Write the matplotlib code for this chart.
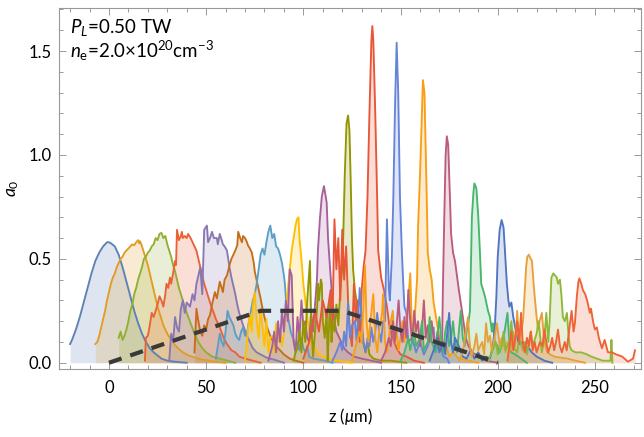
import matplotlib
matplotlib.use("Agg")
import matplotlib.pyplot as plt
from matplotlib.ticker import MultipleLocator

plt.rcParams['font.family'] = ['Lato', 'DejaVu Sans']
plt.rcParams['mathtext.fontset'] = 'custom'
plt.rcParams['mathtext.rm'] = 'Lato'
plt.rcParams['mathtext.it'] = 'Lato:italic'

# snapshots of a0 along z, (z in um, a0)
p01 = [(-20, .09), (-19, .11), (-17, .16), (-15, .22), (-13, .29), (-11, .36), (-9, .43), (-7, .49),
       (-5, .53), (-3, .56), (-1, .58), (0, .58), (1, .575), (3, .56), (5, .52), (7, .46), (9, .39),
       (11, .32), (13, .25), (15, .19), (17, .14), (19, .10), (21, .07), (23, .05), (25, .035),
       (27, .02), (30, .01), (34, .005), (40, 0)]
p02 = [(-7, .09), (-6, .1), (-5, .13), (-4, .17), (-3, .21), (-2, .25), (-1, .3), (0, .34), (1, .38),
       (2, .41), (3, .43), (4, .46), (5, .48), (6, .5), (7, .51), (8, .53), (9, .54), (10, .55),
       (11, .56), (12, .57), (13, .565), (14, .58), (15, .59), (15.5, .575), (16, .585), (17, .56),
       (18, .53), (19, .5), (20, .47), (21, .43), (22, .39), (23, .35), (24, .31), (25, .27), (26, .24),
       (27, .21), (28, .18), (30, .14), (32, .11), (34, .085), (36, .065), (38, .05), (41, .035),
       (44, .025), (48, .015), (53, .008), (60, 0)]
p03 = [(5, .12), (6, .15), (7, .11), (8, .13), (9, .16), (10, .2), (11, .25), (12, .28), (13, .33),
       (14, .36), (15, .4), (16, .43), (17, .46), (18, .5), (19, .51), (20, .53), (21, .54), (22, .56),
       (23, .57), (24, .6), (25, .59), (26, .62), (27, .625), (28, .6), (29, .61), (30, .57), (31, .54),
       (32, .51), (33, .47), (34, .44), (35, .4), (36, .36), (37, .33), (38, .3), (40, .24), (42, .19),
       (44, .14), (46, .1), (48, .07), (50, .05), (53, .03), (57, .02), (61, .01), (65, 0)]
p04 = [(18.5, .01), (19, .12), (20, .13), (21, .18), (22, .24), (23, .22), (24, .25), (25, .28),
       (26, .32), (27, .3), (28, .27), (29, .33), (29.6, .38), (30.5, .36), (31.4, .41), (32, .38),
       (33, .43), (34, .49), (34.5, .47), (35, .64), (36, .59), (37, .61), (37.5, .63), (38, .6),
       (39, .61), (40, .6), (40.7, .62), (42, .6), (43, .58), (44, .56), (45, .54), (46, .5), (47, .46),
       (48, .42), (49, .38), (50, .35), (51, .32), (52, .29), (53.5, .25), (55, .21), (57, .17),
       (59, .12), (60.7, .09), (63, .06), (65, .05), (67, .03), (70, .02), (74, .01), (78, 0)]
p05 = [(31, .01), (32, .14), (33, .1), (34, .22), (35, .17), (36, .15), (37, .26), (38, .3), (39, .24),
       (40, .29), (41.7, .27), (43, .33), (44, .3), (45, .38), (46, .42), (47, .46), (48, .33),
       (49, .64), (50.4, .66), (51, .58), (52, .6), (53, .63), (54, .6), (55.5, .6), (56, .57),
       (57, .62), (58, .59), (58.6, .57), (59.5, .56), (60.7, .54), (62, .46), (63, .41), (64, .37),
       (65, .33), (66, .28), (67, .24), (69, .18), (71, .13), (72.5, .1), (74, .07), (76, .05),
       (78, .04), (81, .025), (85, .015), (90, 0)]
p06 = [(44, .05), (45, .26), (46, .2), (47, .15), (48, .13), (49, .18), (50, .16), (51, .21), (52, .23),
       (53, .28), (54.5, .34), (55.5, .31), (57, .39), (58, .36), (58.6, .34), (59.5, .4), (60.7, .42),
       (61.5, .45), (62, .47), (63, .5), (64, .52), (65, .54), (66, .565), (66.5, .63), (67.5, .6),
       (68.4, .58), (69, .61), (70, .6), (71, .58), (71.5, .565), (72.5, .55), (73.5, .53),
       (74.5, .48), (75, .44), (76.6, .37), (78, .31), (79, .26), (80, .22), (81, .18), (83, .13),
       (85, .09), (88, .06), (90, .04), (93, .02), (96, .01), (100, 0)]
p07 = [(55, .02), (56, .08), (57, .14), (58, .1), (59, .08), (60, .15), (61, .25), (62, .22), (63, .2),
       (64, .18), (65, .14), (66, .12), (67, .11), (68, .15), (69, .17), (70, .13), (71, .14), (72, .2),
       (73, .25), (74, .3), (75, .33), (76, .38), (77, .45), (78, .52), (79, .55), (80, .52), (81, .58),
       (82, .63), (83, .66), (84, .6), (85, .62), (86, .56), (87, .55), (88, .52), (89, .48), (90, .42),
       (90.5, .38), (91.5, .25), (92.5, .2), (93.5, .15), (95, .11), (96, .08), (97, .1), (98, .06),
       (99, .12), (100, .07), (101, .05), (102, .08), (103, .03), (105, .02), (108, .015), (111, .01),
       (115, 0)]
p08 = [(70, .01), (71, .1), (72, .2), (72.5, .23), (73.5, .15), (74, .27), (75, .34), (76, .2),
       (77, .12), (77.7, .22), (78, .26), (79, .17), (80, .08), (81, .21), (82, .05), (83, .12),
       (84.5, .13), (85, .05), (86, .19), (87, .1), (88, .16), (89, .08), (90, .14), (91, .25),
       (92, .35), (93, .45), (94, .54), (95, .6), (96, .66), (96.7, .69), (97.5, .7), (98, .6),
       (99, .5), (100, .38), (101, .3), (102, .22), (103.4, .12), (104.5, .09), (106, .07), (108, .04),
       (110, .03), (113, .02), (117, .01), (125, 0)]
p09 = [(82, .01), (84, .08), (85, .15), (86, .05), (87, .2), (88, .1), (89, .25), (90, .15), (91, .3),
       (92, .2), (93, .45), (94, .42), (95, .1), (96, .05), (97, .22), (98, .12), (99, .3), (100, .18),
       (101, .2), (102, .12), (103, .1), (104, .25), (105, .15), (106, .28), (107, .4), (107.5, .54),
       (108.5, .69), (109.5, .8), (110.6, .85), (111.5, .8), (112, .77), (112.7, .6), (113.7, .46),
       (114.7, .33), (116, .2), (117, .15), (119, .11), (121, .07), (123, .05), (126, .03), (130, .02),
       (135, .01), (140, 0)]
p10 = [(95, .01), (96, .05), (97, .07), (98, .15), (99, .05), (100, .2), (101, .1), (102, .3),
       (103.4, .49), (104, .2), (105, .03), (106, .15), (107, .25), (107.5, .38), (108, .3), (109, .4),
       (109.5, .38), (110, .2), (111, .12), (112, .25), (112.5, .01), (113, .12), (113.7, .32),
       (114.5, .1), (115, .2), (116, .15), (117, .28), (118, .18), (119, .35), (120, .45), (120.5, .6),
       (121.3, .9), (122.2, 1.15), (123, 1.19), (123.7, 1.12), (124.3, .9), (125, .6), (125.6, .45),
       (126.5, .35), (127.5, .29), (128.3, .16), (129.5, .12), (131, .09), (132, .05), (133, .1),
       (134, .04), (136, .02), (140, .01), (145, .01), (153, 0)]
p11 = [(100, .02), (103, .1), (106, .25), (108, .15), (110, .3), (112, .22), (114, .35), (115, .2),
       (116, .69), (117, .45), (118, .6), (119, .3), (120, .64), (121, .4), (122, .56), (123, .3),
       (124, .15), (125, .08), (126, .38), (127, .2), (128, .3), (129, .1), (130, .35), (131, .46),
       (132, .54), (133, .8), (134, 1.2), (135, 1.55), (135.5, 1.62), (136, 1.55), (137, 1.2),
       (138, .78), (138.5, .54), (140, .41), (141.5, .35), (143, .27), (144.5, .16), (146, .12),
       (148, .07), (150, .04), (153, .03), (157, .01), (162, 0)]
p12 = [(115, .01), (117, .05), (119, .1), (120, .06), (121, .15), (122, .08), (123, .29), (124, .12),
       (125, .18), (126.5, .2), (127.5, .1), (129, .36), (130, .2), (131, .1), (132, .05), (133, .12),
       (134, .08), (135, .17), (136, .1), (137, .15), (138, .24), (139, .15), (140, .1), (141, .2),
       (142, .2), (143, .69), (144, .35), (144.5, .3), (145.5, .5), (146.3, .8), (147.2, 1.25),
       (148, 1.54), (148.8, 1.3), (149.7, .8), (150.7, .53), (151.5, .36), (152, .27), (153, .24),
       (154, .1), (156, .12), (158, .05), (160, .1), (162, .04), (164, .08), (165, .12), (167, .17),
       (168, .05), (170, .1), (172, .03), (174, .02), (175, 0)]
p13 = [(125, .01), (127, .08), (129, .15), (130, .1), (131, .3), (131.7, .47), (132.5, .2),
       (133.5, .1), (134.5, .2), (136, .33), (137, .12), (138, .05), (139, .15), (140.5, .24),
       (141, .33), (142, .1), (143, .05), (144, .12), (145, .2), (146, .25), (147, .1), (148, .15),
       (149, .06), (150, .12), (151, .2), (152, .1), (153, .18), (154, .3), (155, .43), (155.7, .2),
       (156.5, .12), (157.5, .25), (158.5, .4), (159, .65), (160, .9), (161, 1.2), (161.5, 1.36),
       (162.3, 1.3), (163, 1.0), (163.5, .78), (164, .53), (165, .45), (166, .4), (167, .29),
       (168.6, .2), (170, .12), (171, .06), (173, .1), (175, .03), (177, .05), (180, .02), (185, .01),
       (190, 0)]
p14 = [(140, .01), (142, .05), (144, .12), (145, .08), (146, .2), (147, .1), (148, .18), (149, .3),
       (150, .15), (151, .1), (152, .22), (153, .12), (154, .35), (155, .2), (156, .1), (157, .25),
       (158, .15), (159, .2), (160, .08), (161, .15), (162, .3), (163, .12), (164, .18), (165, .1),
       (166, .2), (167, .12), (168, .08), (169, .15), (170, .1), (171.3, .06), (171.8, .36),
       (172.5, .7), (173.2, 1.0), (173.8, 1.09), (174.5, 1.05), (175.4, .8), (176, .62), (177, .53),
       (178, .49), (179, .42), (180, .35), (181.6, .25), (182.5, .19), (183.5, .12), (185, .08),
       (187, .05), (190, .03), (194, .01), (200, 0)]
p15 = [(150, .01), (152, .05), (154, .12), (155, .06), (157, .15), (158, .08), (160, .12), (161, .2),
       (162, .06), (164, .1), (165, .22), (166, .1), (168, .05), (168.6, .1), (170, .22), (171, .1),
       (172, .05), (173, .15), (174, .2), (175, .08), (176, .12), (177, .2), (178, .1), (179, .05),
       (180, .15), (181, .25), (182, .12), (183, .08), (184, .15), (185, .2), (185.7, .25),
       (186.2, .46), (186.7, .7), (187.5, .82), (188, .863), (189, .84), (190, .7), (190.8, .54),
       (191.5, .38), (192.5, .35), (193.4, .32), (195, .25), (196, .22), (197, .15), (197.5, .19),
       (198.5, .1), (200, .08), (201, .05), (203, .12), (205, .24), (206, .1), (207, .05), (209, .04),
       (212, .02), (215, 0)]
p16 = [(165, .01), (167, .06), (169, .12), (170, .05), (172, .1), (173, .04), (175, .24), (176, .1),
       (177, .05), (178, .12), (180, .08), (182, .03), (184, .02), (186, .06), (188, .02), (190, .05),
       (192, .01), (194, .03), (196, .02), (197.5, .08), (198.5, .17), (199.3, .32), (200, .51),
       (201, .64), (202, .687), (203, .65), (203.7, .54), (204.7, .38), (205.5, .3), (206, .27),
       (207, .29), (208, .22), (209, .17), (210, .12), (211, .09), (213, .1), (214, .08), (216, .07),
       (217.5, .05), (220, .03), (224, .01), (228, 0)]
p17 = [(180, .01), (182, .05), (184.7, .22), (185.5, .1), (186.5, .03), (188, .08), (189, .14),
       (190, .06), (192, .1), (193, .04), (194, .19), (195, .1), (196, .13), (197, .05), (198, .1),
       (199.6, .19), (201, .08), (202, .12), (204, .05), (205, .1), (207, .06), (208, .15), (209, .08),
       (210, .25), (211, .1), (212, .15), (213, .2), (214, .36), (214.6, .46), (215.2, .51),
       (216, .52), (217, .5), (217.6, .49), (218.3, .4), (219, .32), (220, .22), (220.7, .16),
       (221.5, .2), (222.7, .24), (223.5, .15), (224, .1), (225.5, .05), (227, .04), (229, .03),
       (232, .025), (236, .02), (240, .01), (245, 0)]
p18 = [(195, .01), (197, .05), (199, .1), (200, .04), (202, .08), (203, .15), (204, .06), (206, .1),
       (207, .2), (208, .08), (210, .05), (211, .12), (213, .06), (214, .1), (215, .04), (217, .15),
       (218, .08), (220, .14), (221, .2), (222.7, .05), (224, .12), (225, .24), (226, .1),
       (226.7, .2), (227.2, .32), (227.6, .41), (228.6, .43), (229.5, .42), (230.4, .41), (231, .38),
       (232, .4), (232.8, .32), (233.5, .22), (234.5, .2), (235.6, .24), (236.2, .16), (237, .08),
       (238, .06), (240, .05), (243, .05), (246, .04), (248, .03), (251, .02), (254, .01), (258, .01),
       (258.5, .11), (259, 0)]
p19 = [(205, .01), (206, .08), (207, .15), (208, .06), (209, .12), (210, .2), (211, .1), (212, .24),
       (212.8, .1), (214, .05), (215, .12), (216, .08), (217, .15), (218, .06), (219, .1), (220, .05),
       (221.7, .1), (223, .08), (224, .16), (225, .1), (226, .05), (227, .08), (228, .12), (229, .06),
       (230, .1), (231, .16), (232, .08), (233, .05), (234.5, .1), (235.5, .06), (236.5, .14),
       (238, .25), (239, .15), (239.7, .19), (240.7, .32), (241.5, .39), (242, .406), (243, .38),
       (243.8, .35), (245, .33), (246, .3), (247.4, .24), (248, .26), (249, .2), (250, .16),
       (251, .17), (252, .12), (253.6, .07), (255, .11), (256.7, .05), (258.7, .05), (261, .04),
       (264, .03), (267, .005), (269.6, .02), (270.6, .06)]

pulses = [p01, p02, p03, p04, p05, p06, p07, p08, p09, p10,
          p11, p12, p13, p14, p15, p16, p17, p18, p19]
colors = ['#5E81B5', '#E19C24', '#8FB032', '#EB6235', '#8778B3', '#C56E1A', '#5D9EC7',
          '#FFBF00', '#A5609D', '#929600', '#E95536', '#6685D9', '#F89F13', '#BC5B80',
          '#47B66D', '#4F75C0', '#E6A13A', '#8FB83A', '#EE6236']

# plasma density profile (scaled)
dens_z = [0, 78, 120, 200]
dens_a = [0, 0.25, 0.25, 0]

fig = plt.figure(figsize=(6.44, 4.37), dpi=100)
ax = fig.add_axes([59 / 644, 1 - 369 / 437, 582 / 644, 361 / 437])

for p, c in zip(pulses, colors):
    z = [q[0] for q in p]
    a = [q[1] for q in p]
    ax.fill_between(z, 0, a, color=c, alpha=0.2, lw=0, zorder=1)
for p, c in zip(pulses, colors):
    z = [q[0] for q in p]
    a = [q[1] for q in p]
    ax.plot(z, a, color=c, lw=1.35, zorder=2)

ax.plot(dens_z, dens_a, color='#3a3a3a', lw=3, dashes=(3.2, 2.2), zorder=3)

ax.set_xlim(-25.7, 273.7)
ax.set_ylim(-0.03, 1.707)
ax.xaxis.set_major_locator(MultipleLocator(50))
ax.xaxis.set_minor_locator(MultipleLocator(10))
ax.yaxis.set_major_locator(MultipleLocator(0.5))
ax.yaxis.set_minor_locator(MultipleLocator(0.1))
ax.yaxis.set_major_formatter(plt.FuncFormatter(lambda v, _: f"{v:.1f}"))
ax.tick_params(which='both', direction='in', top=True, right=True, color='#999999',
               labelsize=12, width=0.7)
ax.tick_params(which='major', length=5)
ax.tick_params(which='minor', length=3)
ax.tick_params(axis='x', pad=8)
ax.tick_params(axis='y', pad=5)
for s in ax.spines.values():
    s.set_color('#999999')
    s.set_linewidth(0.8)

ax.set_xlabel(r"z ($\mu$m)", fontsize=12, labelpad=7)
ax.set_ylabel(r"$a_0$", fontsize=12.5, labelpad=6)

ax.text(0.019, 0.93, r"$P_L$=0.50 TW", transform=ax.transAxes, fontsize=13.5)
ax.text(0.019, 0.862, r"$n_{\rm e}$=2.0$\times$10$^{20}$cm$^{-3}$", transform=ax.transAxes,
        fontsize=13.5)

fig.savefig("out.png", dpi=100)
